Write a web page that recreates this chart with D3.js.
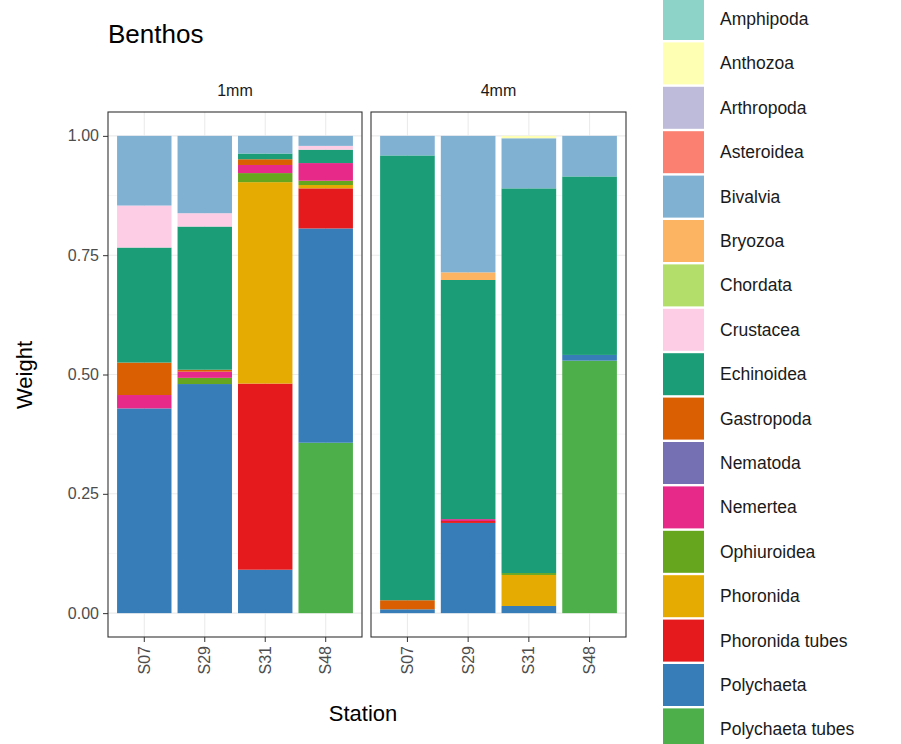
<!DOCTYPE html>
<html><head><meta charset="utf-8">
<script src="https://cdn.jsdelivr.net/npm/d3@7/dist/d3.min.js"></script>
<style>body{margin:0;background:#fff;font-family:"Liberation Sans",Arial,sans-serif}</style>
</head><body><svg id="c" width="901" height="744"></svg>
<script>
const stations = ['S07','S29','S31','S48'];
const meshes = ['1mm','4mm'];
// taxa in legend order (first on top of stack)
const taxa = ['Amphipoda','Anthozoa','Arthropoda','Asteroidea','Bivalvia','Bryozoa','Chordata','Crustacea',
  'Echinoidea','Gastropoda','Nematoda','Nemertea','Ophiuroidea','Phoronida','Phoronida tubes','Polychaeta','Polychaeta tubes'];
const colours = ['#8DD3C7','#FFFFB3','#BEBADA','#FB8072','#80B1D3','#FDB462','#B3DE69','#FCCDE5',
  '#1B9E77','#D95F02','#7570B3','#E7298A','#66A61E','#E6AB02','#E41A1C','#377EB8','#4DAF4A'];
// values: 1mm S07,S29,S31,S48, 4mm S07,S29,S31,S48
const weights = {
  'Amphipoda':        [0,0,0,0, 0,0,0,0],
  'Anthozoa':         [0,0,0,0, 0,0,0.005,0],
  'Arthropoda':       [0,0,0,0, 0,0,0,0],
  'Asteroidea':       [0,0,0,0, 0,0,0,0],
  'Bivalvia':         [0.146,0.162,0.037,0.021, 0.041,0.286,0.105,0.085],
  'Bryozoa':          [0,0,0,0, 0,0.016,0,0],
  'Chordata':         [0,0,0,0, 0,0,0,0],
  'Crustacea':        [0.088,0.028,0,0.008, 0,0,0,0],
  'Echinoidea':       [0.241,0.300,0.012,0.028, 0.932,0.501,0.806,0.374],
  'Gastropoda':       [0.068,0.004,0.012,0, 0.019,0,0,0],
  'Nematoda':         [0,0,0,0, 0,0,0,0],
  'Nemertea':         [0.028,0.013,0.017,0.037, 0,0.004,0,0],
  'Ophiuroidea':      [0,0.013,0.019,0.009, 0,0,0.004,0],
  'Phoronida':        [0,0,0.422,0.007, 0,0,0.065,0],
  'Phoronida tubes':  [0,0,0.390,0.084, 0,0.004,0,0],
  'Polychaeta':       [0.429,0.480,0.091,0.449, 0.008,0.189,0.015,0.012],
  'Polychaeta tubes': [0,0,0,0.357, 0,0,0,0.529]
};
const yTicks = [0,0.25,0.5,0.75,1];

const svg = d3.select('#c');
const colour = d3.scaleOrdinal(taxa, colours);
const pTop = 112, pBottom = 637;
const panels = [{m:'1mm',x0:108,x1:362},{m:'4mm',x0:371,x1:626}];
const y = d3.scaleLinear().domain([-0.05,1.05]).range([pBottom, pTop]);

svg.append('text').attr('x',108).attr('y',43).attr('font-size',26).text('Benthos');

panels.forEach((p, pi) => {
  const x = d3.scaleBand().domain(stations).range([p.x0, p.x1]).paddingInner(0.1).paddingOuter(0.15);
  const g = svg.append('g');
  const minor = [0.125,0.375,0.625,0.875];
  g.selectAll('.mg').data(minor).join('line').attr('x1',p.x0).attr('x2',p.x1)
    .attr('y1',d=>y(d)).attr('y2',d=>y(d)).attr('stroke','#f2f2f2').attr('stroke-width',0.6);
  g.selectAll('.gy').data(yTicks).join('line').attr('x1',p.x0).attr('x2',p.x1)
    .attr('y1',d=>y(d)).attr('y2',d=>y(d)).attr('stroke','#ebebeb').attr('stroke-width',1.1);
  g.selectAll('.gx').data(stations).join('line').attr('y1',pTop).attr('y2',pBottom)
    .attr('x1',d=>x(d)+x.bandwidth()/2).attr('x2',d=>x(d)+x.bandwidth()/2).attr('stroke','#ebebeb').attr('stroke-width',1.1);
  const rows = stations.map((s, si) => {
    const r = {station:s};
    taxa.forEach(t => r[t] = weights[t][pi*4+si]);
    return r;
  });
  const stack = d3.stack().keys(taxa.slice().reverse())(rows);
  stack.forEach(layer => {
    g.selectAll(null).data(layer.filter(d => d[1]-d[0] > 0)).join('rect')
      .attr('x', d => x(d.data.station)).attr('width', x.bandwidth())
      .attr('y', d => y(d[1])).attr('height', d => y(d[0]) - y(d[1]))
      .attr('fill', colour(layer.key));
  });
  g.append('rect').attr('x',p.x0).attr('y',pTop).attr('width',p.x1-p.x0).attr('height',pBottom-pTop)
    .attr('fill','none').attr('stroke','#333').attr('stroke-width',1.1);
  g.append('text').attr('x',(p.x0+p.x1)/2).attr('y',pTop-16).attr('text-anchor','middle')
    .attr('font-size',16).attr('fill','#1a1a1a').text(p.m);
  const xa = g.append('g').attr('transform',`translate(0,${pBottom})`)
    .call(d3.axisBottom(x).tickSize(5).tickPadding(4));
  xa.select('.domain').remove();
  xa.selectAll('line').attr('stroke','#333');
  xa.selectAll('.tick text').attr('font-size',16).attr('fill','#4d4d4d').attr('font-family','Liberation Sans')
    .attr('transform','rotate(-90)').attr('text-anchor','end').attr('x',-9).attr('y',0).attr('dy','0.35em');
});

const ya = svg.append('g').attr('transform','translate(108,0)')
  .call(d3.axisLeft(y).tickValues(yTicks).tickFormat(d3.format('.2f')).tickSize(5).tickPadding(4));
ya.select('.domain').remove();
ya.selectAll('line').attr('stroke','#333');
ya.selectAll('text').attr('font-size',16).attr('fill','#4d4d4d').attr('font-family','Liberation Sans');

svg.append('text').attr('transform','translate(32,375) rotate(-90)').attr('text-anchor','middle')
  .attr('font-size',22).text('Weight');
svg.append('text').attr('x',363).attr('y',721).attr('text-anchor','middle').attr('font-size',22).text('Station');

const lg = svg.append('g');
taxa.forEach((t, i) => {
  const cy = 19 + i*44.4;
  lg.append('rect').attr('x',663).attr('y',cy-21).attr('width',41).attr('height',42).attr('fill',colour(t));
  lg.append('text').attr('x',720).attr('y',cy+6).attr('font-size',17.5).attr('fill','#1a1a1a').text(t);
});
</script></body></html>
